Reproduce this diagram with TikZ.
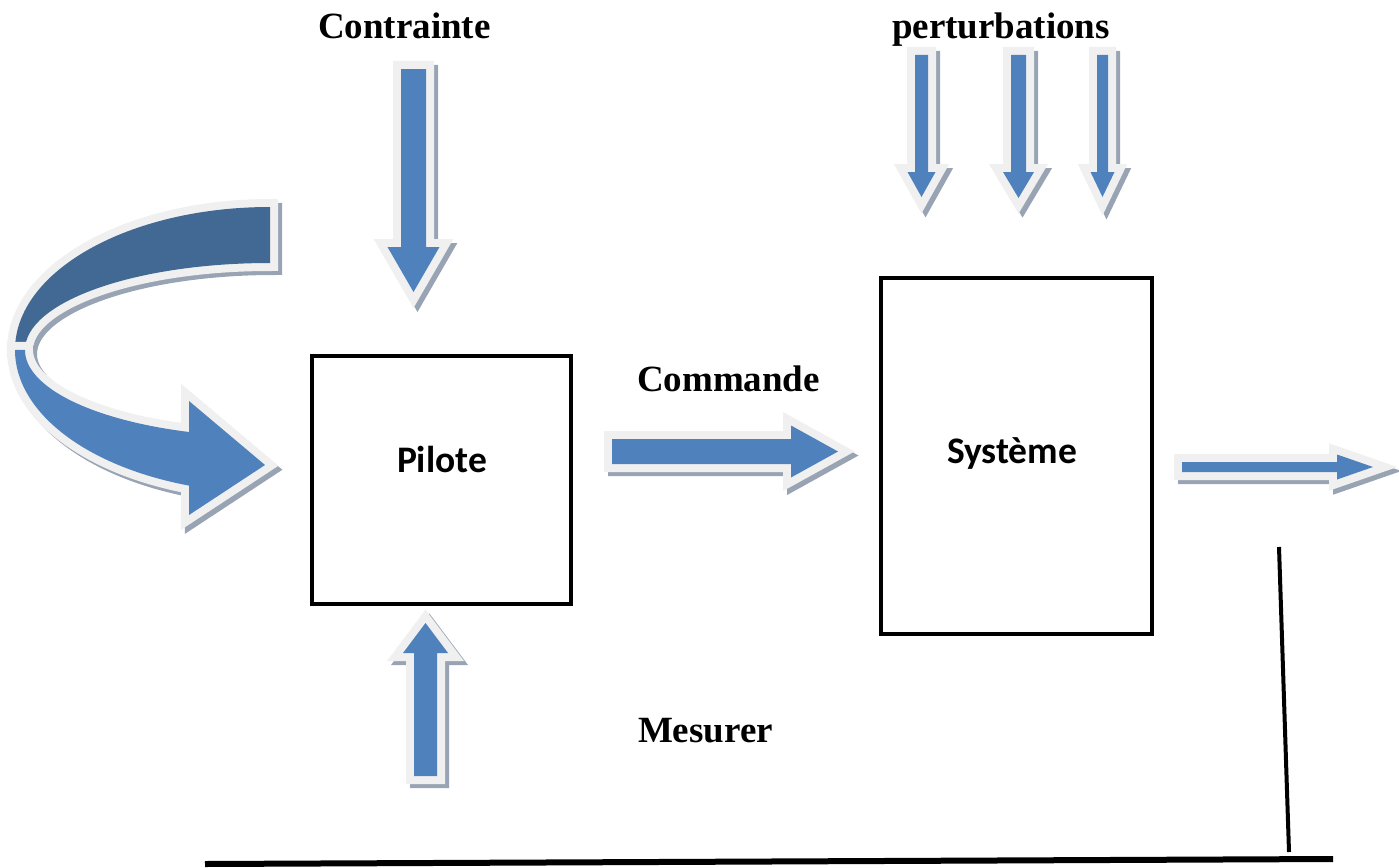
\documentclass[tikz,border=0pt]{standalone}
\usepackage{fontspec}
\setmainfont{Liberation Serif}
\newfontfamily\calibri{Carlito}
\definecolor{bleu}{RGB}{79,129,189}
\definecolor{bleufonce}{RGB}{65,105,147}
\definecolor{bord}{RGB}{240,240,240}
\definecolor{ombre}{RGB}{152,164,180}

\begin{document}
\begin{tikzpicture}[x=1pt, y=-1pt, every node/.style={inner sep=0pt, outer sep=0pt},
	titre/.style={font=\fontsize{37}{40}\selectfont\bfseries, anchor=base west},
	nom/.style={font=\fontsize{37.5}{40}\selectfont\calibri\bfseries, anchor=base west},
	bloc/.style={draw, line width=4pt},
	blocfleche/.style={preaction={draw=ombre, fill=ombre, line width=16pt, transform canvas={shift={(4pt,-4pt)}}}, preaction={draw=bord, line width=16pt}, fill=bleu},
	pics/fleche/.style n args={4}{code={\path[blocfleche] (0,-#2) -- (#1-#4,-#2) -- (#1-#4,-#3) -- (#1,0) -- (#1-#4,#3) -- (#1-#4,#2) -- (0,#2) -- cycle;}}]
	\useasboundingbox (0,0) rectangle (1399,867);
	\path[blocfleche, fill=bleufonce] (270,207) arc[start angle=270, end angle=180, x radius=255, y radius=143] -- (25,350) arc[start angle=180, end angle=270, x radius=245, y radius=87] -- cycle;
	\path[blocfleche] (15,350) arc[start angle=180, end angle=108.5, x radius=255, y radius=143] -- (189,515) -- (265,465) -- (189,401) -- (189,432) arc[start angle=109.3, end angle=180, x radius=245, y radius=87] -- cycle;
	\node[bloc, minimum width=259pt, minimum height=248pt] (pilote) at (441.5,480) {};
	\node[bloc, minimum width=271pt, minimum height=356pt] (systeme) at (1016.5,456) {};
	\node[nom] (tpilote) at (397,472) {Pilote};
	\node[nom] (tsysteme) at (947,463) {Système};
	\node[titre] (contrainte) at (318,39) {Contrainte};
	\node[titre] (perturb) at (892,38) {perturbations};
	\node[titre] (commande) at (637,391) {Commande};
	\node[titre] (mesurer) at (638,742) {Mesurer};
	\pic[rotate=-90] (fcontr) at (413.5,69) {fleche={223}{12.5}{26}{45}};
	\pic[rotate=-90] (fpert1) at (921.5,55) {fleche={142}{6.5}{14}{25}};
	\pic[rotate=-90] (fpert2) at (1018.5,55) {fleche={143}{7.5}{15.5}{26}};
	\pic[rotate=-90] (fpert3) at (1102.5,55) {fleche={142}{5.5}{12}{25}};
	\pic (fcmd) at (612,451.5) {fleche={226}{12.5}{26}{47}};
	\pic (fsortie) at (1182,467) {fleche={191}{5}{12.5}{36}};
	\pic[rotate=90] (fmes) at (425.5,776) {fleche={153}{11.5}{22.5}{30}};
	\coordinate (mes-h) at (1279,547);
	\coordinate (mes-b) at (1289,852);
	\coordinate (bas-g) at (205,864);
	\coordinate (bas-d) at (1333,859);
	\draw[line width=4pt] (mes-h) -- (mes-b);
	\draw[line width=6pt] (bas-g) -- (bas-d);
\end{tikzpicture}
\end{document}
